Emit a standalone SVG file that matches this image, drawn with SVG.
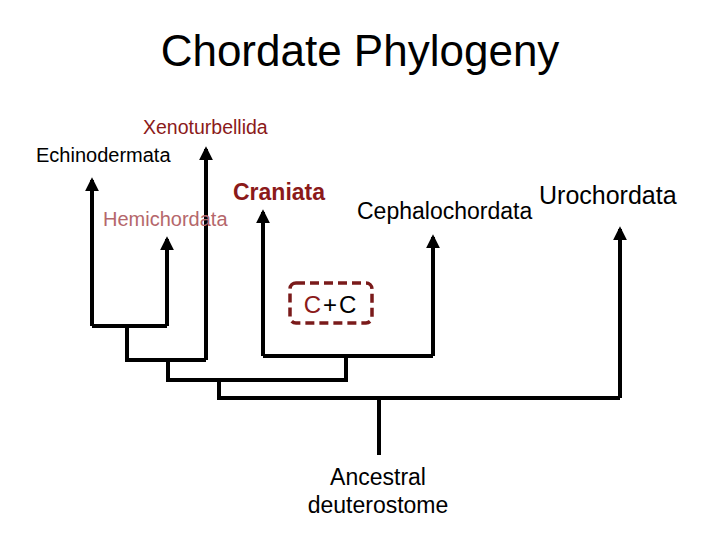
<svg xmlns="http://www.w3.org/2000/svg" width="720" height="540" viewBox="0 0 720 540">
<defs><marker id="ah" viewBox="0 0 10 10" refX="8" refY="5" markerWidth="3.5" markerHeight="3.5" orient="auto-start-reverse" markerUnits="strokeWidth"><path d="M0,0 L10,5 L0,10 Z" fill="#000"/></marker></defs>
<style>text{font-family:"Liberation Sans",Arial,sans-serif}.l{fill:none;stroke:#000;stroke-width:4}.a{marker-start:url(#ah)}</style>
<rect width="720" height="540" fill="#fff"/>
<text x="360" y="66" font-size="44" text-anchor="middle">Chordate Phylogeny</text>
<g id="connectors">
<path class="l a" d="M92,180 V326"/>
<path class="l a" d="M167,239 V326"/>
<path class="l" d="M92,326 H167"/>
<path class="l" d="M127,326 V360 H206"/>
<path class="l a" d="M206,149 V360"/>
<path class="l a" d="M263,212 V356"/>
<path class="l a" d="M433,237 V356"/>
<path class="l" d="M263,356 H433"/>
<path class="l" d="M168,360 V380 H346 V356"/>
<path class="l" d="M219,380 V398 H620"/>
<path class="l a" d="M620,229 V398"/>
<path class="l" d="M379,398 V455"/>
</g>
<g id="xeno"><text x="143" y="134" font-size="19.5" fill="#8b1a1a">Xenoturbellida</text></g>
<g id="echino"><text x="36" y="162" font-size="20">Echinodermata</text></g>
<g id="craniata"><text x="233" y="200" font-size="23" font-weight="bold" fill="#8b1a1a">Craniata</text></g>
<g id="hemi"><text x="103" y="226" font-size="20" fill="#b5676b">Hemichordata</text></g>
<g id="cephalo"><text x="357" y="219" font-size="23">Cephalochordata</text></g>
<g id="uro"><text x="539" y="204" font-size="25">Urochordata</text></g>
<g id="cc"><rect x="290" y="283" width="82" height="40" rx="6" fill="none" stroke="#7a1a1a" stroke-width="3.5" stroke-dasharray="9,5"/>
<text x="331" y="313" font-size="24" text-anchor="middle" letter-spacing="2"><tspan fill="#8b1a1a">C</tspan>+C</text></g>
<g id="root"><text x="378" y="485" font-size="23" text-anchor="middle">Ancestral</text><text x="378" y="513" font-size="23" text-anchor="middle">deuterostome</text></g>
</svg>
